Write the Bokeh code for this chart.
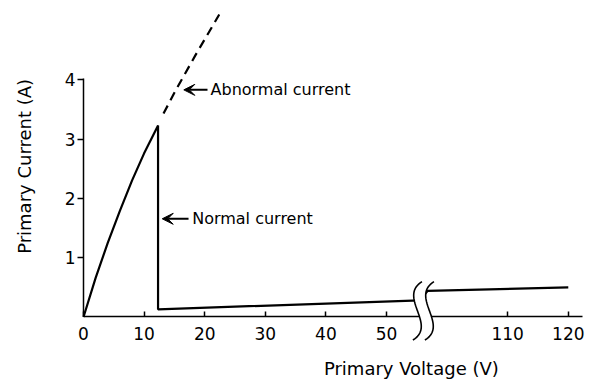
import numpy as np
from bokeh.plotting import figure
from bokeh.models import Range1d, FixedTicker, Label, Arrow, VeeHead
from bokeh.embed import file_html
from bokeh.resources import INLINE

# ---------------- data (true voltages / currents) ----------------
normal_voltage = [0, 2, 4, 6, 8, 10, 12.3, 12.3, 55.5, 96.8, 120]
normal_current = [0, 0.66, 1.25, 1.79, 2.30, 2.76, 3.23, 0.13, 0.28, 0.44, 0.50]

abnormal_voltage = [13.2, 15.2, 18.5, 22.4]
abnormal_current = [3.43, 3.82, 4.42, 5.10]

x_tick_values = [0, 10, 20, 30, 40, 50, 110, 120]
x_tick_labels = ["0", "10", "20", "30", "40", "50", "110", "120"]
y_tick_values = [1, 2, 3, 4]
y_tick_labels = ["1", "2", "3", "4"]

x_title = "Primary Voltage (V)"
y_title = "Primary Current (A)"
abnormal_text = "Abnormal current"
normal_text = "Normal current"

# axis break: voltages above BREAK_V are shifted left by GAP_V
BREAK_V = 57
GAP_V = 40

# annotation anchors (true voltage, current)
abnormal_arrow_tip = (16.55, 3.83)
abnormal_arrow_tail = (20.46, 3.83)
abnormal_text_pos = (20.96, 3.83)
normal_arrow_tip = (12.99, 1.656)
normal_arrow_tail = (17.33, 1.656)
normal_text_pos = (17.93, 1.656)
x_title_pos = (54.1, -0.868)
y_title_pos = (-9.70, 2.54)

FONT = "DejaVu Sans"


def disp(v):
    v = np.asarray(v, dtype=float)
    return np.where(v <= BREAK_V, v, v - GAP_V)


FW, FH = 591, 381
X_START, X_END = -13.70, 83.83
Y_START, Y_END = -1.0877, 5.337
pxx = FW / (X_END - X_START)
pxy = FH / (Y_END - Y_START)

p = figure(frame_width=FW, frame_height=FH,
           x_range=Range1d(X_START, X_END), y_range=Range1d(Y_START, Y_END),
           output_backend="svg", toolbar_location=None, title=None,
           min_border=0)
p.grid.visible = False
p.outline_line_color = None
p.background_fill_color = "white"
p.border_fill_color = "white"

# ---------------- axes ----------------
xd = [float(v) for v in disp(x_tick_values)]
xa = p.xaxis[0]
xa.ticker = FixedTicker(ticks=xd)
xa.major_label_overrides = {t: lab for t, lab in zip(xd, x_tick_labels)}
xa.fixed_location = 0
xa.bounds = (0, 82.3)
xa.axis_line_width = 1.5
xa.axis_line_color = "black"
xa.major_tick_in = 5
xa.major_tick_out = 0
xa.major_tick_line_width = 1.5
xa.minor_tick_line_color = None
xa.major_label_standoff = 10
xa.major_label_text_font = FONT
xa.major_label_text_font_size = "17px"
xa.major_label_text_color = "black"

ya = p.yaxis[0]
ya.ticker = FixedTicker(ticks=y_tick_values)
ya.major_label_overrides = {t: lab for t, lab in zip(y_tick_values, y_tick_labels)}
ya.fixed_location = 0
ya.bounds = (0, 4.03)
ya.axis_line_width = 1.5
ya.axis_line_color = "black"
ya.major_tick_in = 0
ya.major_tick_out = 6
ya.major_tick_line_width = 1.5
ya.minor_tick_line_color = None
ya.major_label_standoff = 2
ya.major_label_text_font = FONT
ya.major_label_text_font_size = "17px"
ya.major_label_text_color = "black"

# ---------------- data lines ----------------
p.line(disp(normal_voltage), normal_current, line_color="black", line_width=2.2)
p.line(disp(abnormal_voltage), abnormal_current, line_color="black",
       line_width=2.2, line_dash="9 6")

# ---------------- axis break symbol ----------------
t = np.linspace(0, 1, 40)
P0, P1, P2, P3 = (2.4, -35.3), (-22, -20), (18, 8), (-6.6, 23)
bx = ((1 - t) ** 3 * P0[0] + 3 * (1 - t) ** 2 * t * P1[0]
      + 3 * (1 - t) * t ** 2 * P2[0] + t ** 3 * P3[0])
by = ((1 - t) ** 3 * P0[1] + 3 * (1 - t) ** 2 * t * P1[1]
      + 3 * (1 - t) * t ** 2 * P2[1] + t ** 3 * P3[1])
break_center = 55.45
sep = 12.0
lx = break_center + bx / pxx
ly = -by / pxy
rx = lx + sep / pxx
p.patch(np.concatenate([lx, rx[::-1]]), np.concatenate([ly, ly[::-1]]),
        fill_color="white", line_color=None, level="overlay")
p.line(lx, ly, line_color="black", line_width=1.6, level="overlay")
p.line(rx, ly, line_color="black", line_width=1.6, level="overlay")

# ---------------- arrows and notes ----------------
for tip, tail in [(abnormal_arrow_tip, abnormal_arrow_tail),
                  (normal_arrow_tip, normal_arrow_tail)]:
    p.add_layout(Arrow(x_start=tail[0], y_start=tail[1],
                       x_end=tip[0], y_end=tip[1], line_width=2,
                       end=VeeHead(size=11, fill_color="black",
                                   line_color="black", line_width=1)))

for txt, pos in [(abnormal_text, abnormal_text_pos), (normal_text, normal_text_pos)]:
    p.add_layout(Label(x=pos[0], y=pos[1], text=txt, text_font=FONT,
                       text_font_size="16px", text_baseline="middle",
                       text_align="left", text_color="black"))

# axis titles
p.add_layout(Label(x=x_title_pos[0], y=x_title_pos[1], text=x_title, text_font=FONT,
                   text_font_size="18px", text_baseline="middle",
                   text_align="center", text_color="black"))
p.add_layout(Label(x=y_title_pos[0], y=y_title_pos[1], text=y_title, text_font=FONT,
                   text_font_size="18px", text_baseline="middle",
                   text_align="center", angle=np.pi / 2, text_color="black"))

open("out.html", "w").write(file_html(p, INLINE))
